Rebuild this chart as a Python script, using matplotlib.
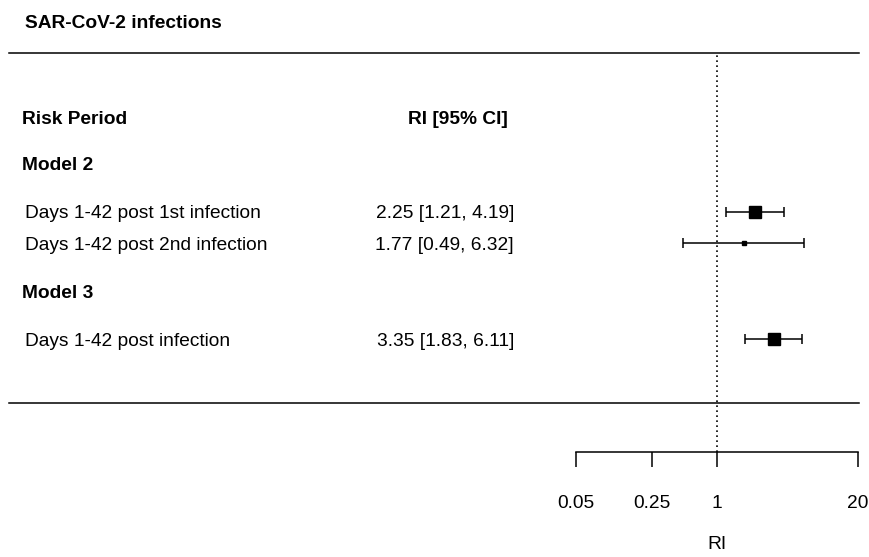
import matplotlib
matplotlib.use("Agg")
from matplotlib import pyplot as plt
from matplotlib.lines import Line2D
from matplotlib.ticker import FixedLocator, NullLocator
import numpy as np

plt.rcParams['font.family'] = ['Liberation Sans', 'DejaVu Sans']

# rate ratios with 95% CI
labels = ["Days 1-42 post 1st infection",
          "Days 1-42 post 2nd infection",
          "Days 1-42 post infection"]
est = [2.25, 1.77, 3.35]
lower = [1.21, 0.49, 1.83]
upper = [4.19, 6.32, 6.11]
groups = ["Model 2", "Model 3"]
ticks = [0.05, 0.25, 1, 20]
tick_labels = ["0.05", "0.25", "1", "20"]

# layout (pixels from the top of an 870x557 canvas)
W, H = 870, 557
row_y = [212, 243, 339]
group_y = [163, 291]
box_size = [9.2, 3.0, 9.2]
FS = 13.8


def fx(x):
    return x / W


def fy(y):
    return 1 - y / H


fig = plt.figure(figsize=(8.7, 5.57), dpi=100)

# forest panel on a log scale
ax = fig.add_axes([fx(576), fy(452), fx(858) - fx(576), fy(53) - fy(452)])
ax.set_xscale('log')
ax.set_xlim(0.05, 20)
ax.set_ylim(452, 53)
for side in ['top', 'right', 'left']:
    ax.spines[side].set_visible(False)
ax.spines['bottom'].set_linewidth(1.1)
ax.set_yticks([])
ax.xaxis.set_major_locator(FixedLocator(ticks))
ax.xaxis.set_minor_locator(NullLocator())
ax.set_xticklabels(tick_labels)
ax.tick_params(axis='x', direction='out', length=11, width=1.1, pad=20, labelsize=FS)
ax.set_xlabel("RI", fontsize=FS, labelpad=17)
ax.patch.set_alpha(0)

ax.axvline(1, color='black', ls=(0, (1, 2)), lw=1.2, zorder=1)

est_a = np.array(est)
err = [est_a - np.array(lower), np.array(upper) - est_a]
ax.errorbar(est, row_y, xerr=err, fmt='none', ecolor='black',
            elinewidth=1.1, capsize=3.3, capthick=1.1, zorder=2)
for x, y, s in zip(est, row_y, box_size):
    ax.plot(x, y, marker='s', ms=s, color='black', ls='none', zorder=3)

# horizontal rules
for y in [53, 403]:
    fig.add_artist(Line2D([fx(9), fx(859)], [fy(y), fy(y)],
                          color='black', lw=1.1))

# text columns
txt = dict(fontsize=FS, va='center_baseline')
fig.text(fx(25), fy(22), "SAR-CoV-2 infections", fontweight='bold',
         ha='left', **txt)
fig.text(fx(22), fy(117), "Risk Period", fontweight='bold', ha='left', **txt)
fig.text(fx(458), fy(117), "RI [95% CI]", fontweight='bold', ha='center', **txt)
for g, y in zip(groups, group_y):
    fig.text(fx(22), fy(y), g, fontweight='bold', ha='left', **txt)
for lab, e, lo, hi, y in zip(labels, est, lower, upper, row_y):
    fig.text(fx(25), fy(y), lab, ha='left', **txt)
    fig.text(fx(514), fy(y), f"{e:.2f} [{lo:.2f}, {hi:.2f}]", ha='right', **txt)

fig.savefig("out.png", dpi=100)
